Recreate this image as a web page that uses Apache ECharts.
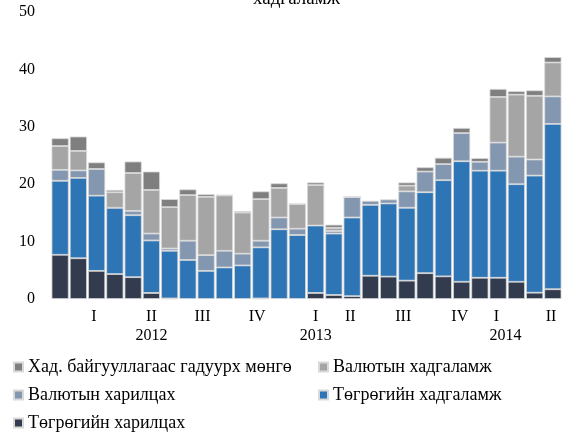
<!DOCTYPE html>
<html>
<head>
<meta charset="utf-8">
<script src="https://cdn.jsdelivr.net/npm/echarts@6/dist/echarts.min.js"></script>
<style>
  html, body { margin: 0; padding: 0; background: #fff; }
  #main { width: 564px; height: 432px; }
</style>
</head>
<body>
<div id="main"></div>
<script>
// сарын баганууд (28)
var categories = ['1','2','3','4','5','6','7','8','9','10','11','12','13','14',
  '15','16','17','18','19','20','21','22','23','24','25','26','27','28'];

// Төгрөгийн харилцах
var tugHar = [7.7, 7.1, 4.9, 4.35, 3.8, 1.05, 0.1, -0.3, -0.3, -0.3, -0.1, 0.1, -0.3, -0.3,
  1.05, 0.7, 0.5, 4.05, 3.9, 3.2, 4.5, 3.95, 3.0, 3.7, 3.7, 3.0, 1.1, 1.7];
// Төгрөгийн хадгаламж
var tugHad = [12.9, 14.0, 13.1, 11.55, 10.8, 9.15, 8.3, 6.8, 4.9, 5.5, 5.85, 8.9, 12.15, 11.15,
  11.75, 10.7, 13.7, 12.35, 12.75, 12.7, 14.1, 16.75, 21.0, 18.65, 18.65, 17.0, 20.4, 28.8];
// Валютын харилцах
var valHar = [1.9, 1.3, 4.65, 0, 0.75, 1.2, 0.4, 3.35, 2.75, 2.9, 2.05, 1.15, 2.05, 1.1,
  -0.3, 0.45, 3.55, 0.7, 0.7, 2.85, 3.6, 2.8, 4.9, 1.55, 4.9, 4.8, 2.8, 4.8];
// Валютын хадгаламж
var valHad = [4.15, 3.4, -0.3, 2.7, 6.6, 7.6, 7.2, 7.95, 10.15, 9.65, 7.15, 7.25, 5.15, 4.3,
  7.05, 0.55, 0, -0.3, -0.3, 1.0, -0.3, -0.3, -0.3, -0.3, 7.95, 10.8, 11.1, 5.9];
// Хад. байгууллагаас гадуурх мөнгө
var gadMongo = [1.35, 2.5, 1.15, 0.4, 2.0, 3.2, 1.4, 1.0, 0.45, 0.05, 0.25, 1.35, 0.8, 0,
  0.45, 0.55, 0, 0, 0, 0.55, 0.75, 1.1, 0.9, 0.65, 1.4, 0.6, 0.95, 0.95];

// улирал, он (байрлал нь баганын индексээр)
var quarterLabels = ['I','II','III','IV','I','II','III','IV','I','II'];
var quarterPos = [1.85, 5, 7.8, 10.8, 14, 15.9, 18.8, 21.9, 23.9, 26.9];
var yearLabels = ['2012','2013','2014'];
var yearPos = [5, 14, 24.4];

var names = ['Хад. байгууллагаас гадуурх мөнгө', 'Валютын хадгаламж',
  'Валютын харилцах', 'Төгрөгийн хадгаламж', 'Төгрөгийн харилцах'];

var font = 'Liberation Serif';
var chart = echarts.init(document.getElementById('main'));

function bar(name, data, color) {
  return {
    name: name,
    type: 'bar',
    stack: 'total',
    data: data,
    barCategoryGap: '6%',
    itemStyle: { color: color, borderColor: '#d9d9d9', borderWidth: 0.8 }
  };
}

var labelAxis = function (vals, labels, offset) {
  return {
    type: 'value',
    position: 'bottom',
    offset: offset,
    min: -0.5,
    max: 27.5,
    axisLine: { show: false },
    axisTick: { show: false },
    splitLine: { show: false },
    axisLabel: {
      customValues: vals,
      margin: 10,
      color: '#000',
      fontFamily: font,
      fontSize: 16,
      formatter: function (v) { return labels[vals.indexOf(v)]; }
    }
  };
};

var legendText = { fontFamily: font, fontSize: 18, color: '#000' };

var option = {
  backgroundColor: '#fff',
  animation: false,
  title: {
    text: 'хадгаламж',
    left: 253,
    top: -10,
    padding: 0,
    textStyle: { fontFamily: font, fontSize: 19, fontWeight: 'normal', color: '#000' }
  },
  grid: { left: 51, right: 2, top: 12, bottom: 133 },
  legend: [{
    data: [names[0], names[2], names[4]],
    orient: 'vertical',
    left: 13, top: 358, padding: 0,
    itemWidth: 9, itemHeight: 9, itemGap: 10,
    icon: 'rect',
    textStyle: legendText
  }, {
    data: [names[1], names[3]],
    orient: 'vertical',
    left: 318, top: 358, padding: 0,
    itemWidth: 9, itemHeight: 9, itemGap: 10,
    icon: 'rect',
    textStyle: legendText
  }],
  xAxis: [{
    type: 'category',
    data: categories,
    axisLine: { show: false },
    axisTick: { show: false },
    axisLabel: { show: false }
  },
    labelAxis(quarterPos, quarterLabels, 0),
    labelAxis(yearPos, yearLabels, 19)
  ],
  yAxis: {
    type: 'value',
    min: 0, max: 50, interval: 10,
    splitLine: { show: false },
    axisLine: { show: false },
    axisTick: { show: false },
    axisLabel: { color: '#000', fontFamily: font, fontSize: 16, margin: 16 }
  },
  series: [
    bar(names[4], tugHar, '#333c4e'),
    bar(names[3], tugHad, '#2e75b6'),
    bar(names[2], valHar, '#8497b0'),
    bar(names[1], valHad, '#a5a5a5'),
    bar(names[0], gadMongo, '#7f7f7f')
  ]
};

chart.setOption(option);
</script>
</body>
</html>
